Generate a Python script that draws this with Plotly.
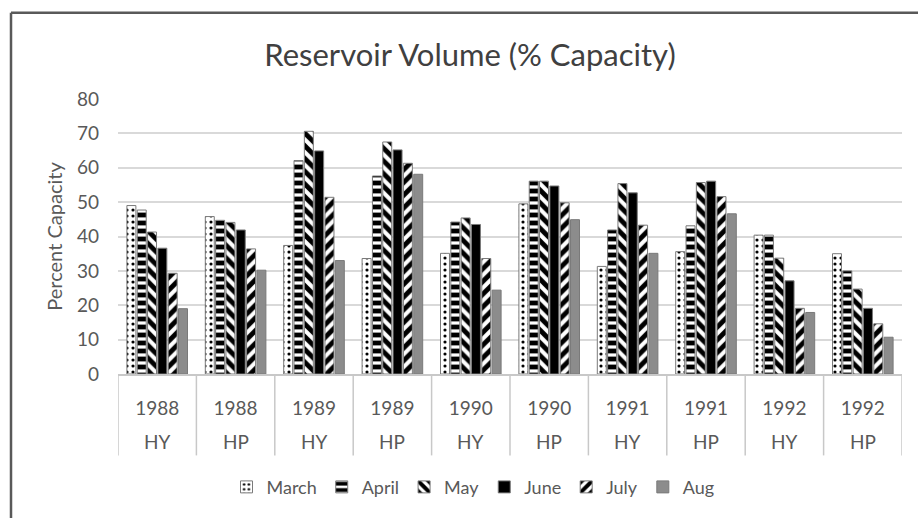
import plotly.graph_objects as go

years = ["1988", "1988", "1989", "1989", "1990", "1990", "1991", "1991", "1992", "1992"]
types = ["HY", "HP", "HY", "HP", "HY", "HP", "HY", "HP", "HY", "HP"]

march = [49.0, 45.8, 37.4, 33.6, 35.1, 49.5, 31.3, 35.6, 40.4, 35.0]
april = [47.7, 44.7, 62.1, 57.6, 44.2, 56.1, 41.9, 43.1, 40.4, 30.0]
may   = [41.3, 44.1, 70.6, 67.5, 45.4, 56.1, 55.4, 55.7, 33.7, 24.7]
june  = [36.6, 41.9, 64.9, 65.2, 43.5, 54.7, 52.7, 56.1, 27.1, 19.1]
july  = [29.3, 36.4, 51.4, 61.3, 33.6, 49.8, 43.3, 51.6, 19.1, 14.6]
aug   = [19.0, 30.2, 33.0, 58.1, 24.4, 44.9, 35.1, 46.6, 17.9, 10.7]

series_names = ["March", "April", "May", "June", "July", "Aug"]
series_vals = [march, april, may, june, july, aug]

cats = [f"{y} {t}" for y, t in zip(years, types)]

styles = {
    "March": dict(color="white", pattern=dict(shape=".", fgcolor="black", size=6, solidity=0.22, fgopacity=1)),
    "April": dict(color="white", pattern=dict(shape="-", fgcolor="black", size=8, solidity=0.6, fgopacity=1)),
    "May":   dict(color="white", pattern=dict(shape="\\", fgcolor="black", size=9, solidity=0.55, fgopacity=1)),
    "June":  dict(color="black"),
    "July":  dict(color="white", pattern=dict(shape="/", fgcolor="black", size=9, solidity=0.55, fgopacity=1)),
    "Aug":   dict(color="#8c8c8c"),
}

fig = go.Figure()
for name, vals in zip(series_names, series_vals):
    st = styles[name]
    marker = dict(color=st["color"], line=dict(color="#7a7a7a", width=1))
    if "pattern" in st:
        marker["pattern"] = st["pattern"]
    fig.add_trace(go.Bar(x=cats, y=vals, name=name, marker=marker))

font_family = "Lato, Open Sans, sans-serif"
grey_text = "#595959"

fig.update_layout(
    width=918, height=518,
    paper_bgcolor="white", plot_bgcolor="white",
    margin=dict(l=118, r=16, t=99, b=142),
    barmode="group", bargap=0.21, bargroupgap=0.13,
    font=dict(family=font_family, color=grey_text, size=19),
    title=dict(text="Reservoir Volume (% Capacity)", x=470 / 918, xref="container", xanchor="center",
               y=1 - 55 / 518, yref="container", yanchor="middle",
               font=dict(size=31, color="#404040", family=font_family)),
    legend=dict(orientation="h", x=(473 - 118) / 784, xanchor="center", y=(376 - 490) / 277,
                yanchor="middle", font=dict(size=18, color=grey_text), itemwidth=30,
                tracegroupgap=0, traceorder="normal"),
    showlegend=True,
)

fig.update_yaxes(range=[0, 80], dtick=10, showgrid=True, gridcolor="#d9d9d9", gridwidth=1.5,
                 zeroline=False, ticks="", ticklabelstandoff=18,
                 tickfont=dict(size=19, color=grey_text),
                 title=dict(text="Percent Capacity", font=dict(size=20, color=grey_text), standoff=8))

fig.update_xaxes(type="category", tickvals=cats, ticktext=years, ticks="",
                 showline=True, linecolor="#c8c8c8", linewidth=1.5,
                 tickfont=dict(size=19, color=grey_text), ticklabelstandoff=16,
                 range=[-0.5, len(cats) - 0.5])

# category dividers on the axis
for i in range(len(cats) + 1):
    fig.add_shape(type="line", xref="x", yref="paper", x0=i - 0.5, x1=i - 0.5,
                  y0=0, y1=-0.296, line=dict(color="#c8c8c8", width=1.5))

# second level labels
for c, t in zip(cats, types):
    fig.add_annotation(x=c, xref="x", y=(376 - 444) / 277, yref="paper", text=t, showarrow=False,
                       yanchor="middle", font=dict(size=19, color=grey_text))

# chart border (left and top visible)
fig.add_shape(type="line", xref="paper", yref="paper",
              x0=-107 / 784, x1=-107 / 784, y0=(376 - 12) / 277, y1=(376 - 530) / 277,
              line=dict(color="#595959", width=2.5))
fig.add_shape(type="line", xref="paper", yref="paper",
              x0=-107 / 784, x1=(930 - 118) / 784, y0=(376 - 12) / 277, y1=(376 - 12) / 277,
              line=dict(color="#595959", width=2.5))

fig.write_html("out.html", config={"displayModeBar": False},
               post_script="document.body.style.margin='0px';")
